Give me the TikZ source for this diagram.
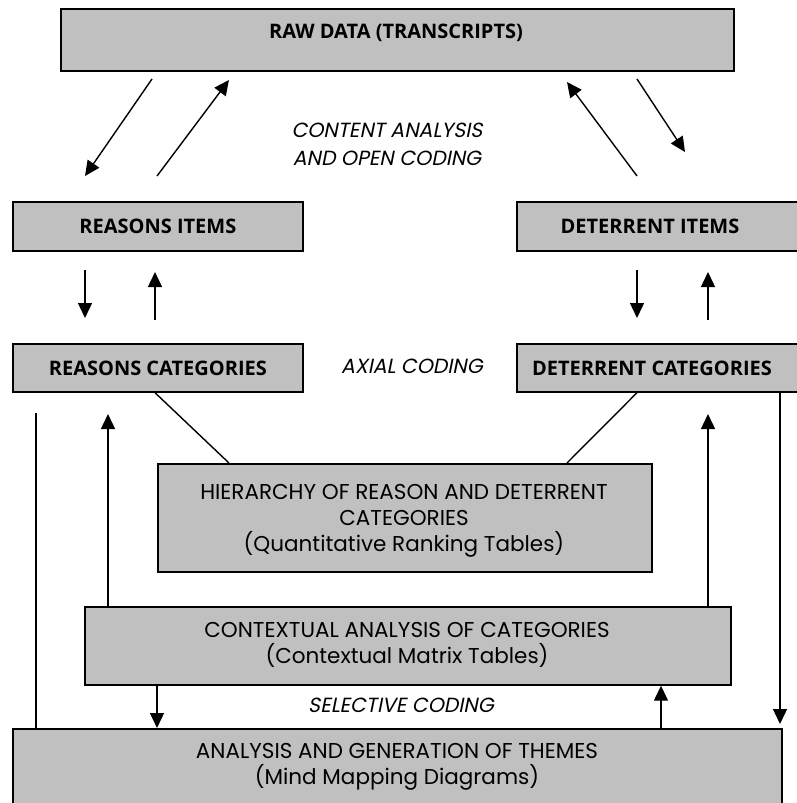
\documentclass[tikz,border=0pt]{standalone}
\usepackage{fontspec}
\usetikzlibrary{arrows.meta}
\newfontfamily\titlefont{Open Sans}
\newfontfamily\gothic{Poppins}
\newfontfamily\gothicit[FakeSlant=0.2]{Poppins}
\definecolor{boxgray}{RGB}{192,192,192}
\begin{document}
\begin{tikzpicture}[x=1pt,y=-1pt,
  box/.style={draw=black, fill=boxgray, line width=1.7pt, inner sep=0pt, anchor=north west},
  titletext/.style={font=\titlefont\bfseries\fontsize{20}{24}\selectfont},
  bodytext/.style={font=\gothic\fontsize{21.5}{26}\selectfont, align=center},
  labeltext/.style={font=\gothicit\fontsize{20.5}{28}\selectfont, align=center},
  arr/.style={line width=1.4pt, -{Triangle[length=15pt,width=14pt]}},
  plain/.style={line width=1.4pt}]
\useasboundingbox (0,0) rectangle (796,803);

% boxes
\node[box, minimum width=673pt, minimum height=62pt] (raw) at (60,8) {};
\node[titletext] (rawtxt) at (396,33) {RAW DATA (TRANSCRIPTS)};
\node[box, minimum width=290pt, minimum height=49pt] (ritems) at (12,201) {};
\node[titletext] (ritemstxt) at (ritems.center) {REASONS ITEMS};
\node[box, minimum width=290pt, minimum height=49pt] (ditems) at (516,201) {};
\node[titletext] (ditemstxt) at (650,226) {DETERRENT ITEMS};
\node[box, minimum width=290pt, minimum height=48pt] (rcat) at (12,343) {};
\node[titletext] (rcattxt) at (rcat.center) {REASONS CATEGORIES};
\node[box, minimum width=290pt, minimum height=48pt] (dcat) at (516,343) {};
\node[titletext] (dcattxt) at (652,368) {DETERRENT CATEGORIES};
\node[box, minimum width=494pt, minimum height=108pt] (hier) at (157,463) {};
\node[bodytext] (hiertxt) at (404,521) {HIERARCHY OF REASON AND DETERRENT\\CATEGORIES\\(Quantitative Ranking Tables)};
\node[box, minimum width=646pt, minimum height=78pt] (ctx) at (84,606) {};
\node[bodytext] (ctxtxt) at (407,645) {CONTEXTUAL ANALYSIS OF CATEGORIES\\(Contextual Matrix Tables)};
\node[box, minimum width=769pt, minimum height=90pt] (anal) at (12,728) {};
\node[bodytext] (analtxt) at (397,767) {ANALYSIS AND GENERATION OF THEMES\\(Mind Mapping Diagrams)};

% labels
\node[labeltext] (lbl1) at (387,144) {CONTENT ANALYSIS\\AND OPEN CODING};
\node[labeltext] (lbl2) at (412,366) {AXIAL CODING};
\node[labeltext] (lbl3) at (401,705) {SELECTIVE CODING};

% free ends
\coordinate (a1s) at (152,79);  \coordinate (a1e) at (85,176);
\coordinate (a2s) at (157,176); \coordinate (a2e) at (229,80);
\coordinate (a3s) at (637,176); \coordinate (a3e) at (567,82);
\coordinate (a4s) at (637,79);  \coordinate (a4e) at (685,152);
\coordinate (b1s) at (85,270);  \coordinate (b1e) at (85,318);
\coordinate (b2s) at (155,320); \coordinate (b2e) at (155,272);
\coordinate (b3s) at (637,270); \coordinate (b3e) at (637,318);
\coordinate (b4s) at (708,320); \coordinate (b4e) at (708,272);
\coordinate (c1s) at (36,413);
\coordinate (c2e) at (108,414);
\coordinate (c3e) at (708,414);
\coordinate (c4e) at (780,724);

% top diagonal arrows
\draw[arr] (a1s) -- (a1e);
\draw[arr] (a2s) -- (a2e);
\draw[arr] (a3s) -- (a3e);
\draw[arr] (a4s) -- (a4e);
% items <-> categories
\draw[arr] (b1s) -- (b1e);
\draw[arr] (b2s) -- (b2e);
\draw[arr] (b3s) -- (b3e);
\draw[arr] (b4s) -- (b4e);
% categories to hierarchy
\draw[plain] (rcat.south west) ++(143,0) coordinate (rc1) -- (229,463) coordinate (hh1);
\draw[plain] (dcat.south west) ++(121,0) coordinate (dc1) -- (567,463) coordinate (hh2);
% long verticals
\draw[plain] (c1s) -- (c1s |- anal.north);
\draw[arr] (ctx.north -| c2e) -- (c2e);
\draw[arr] (ctx.north -| c3e) -- (c3e);
\draw[arr] (dcat.south -| c4e) -- (c4e);
% context <-> analysis
\draw[arr] (ctx.south -| 157,0) -- (anal.north -| 157,0);
\draw[arr] (anal.north -| 661,0) -- (ctx.south -| 661,0);
\end{tikzpicture}
\end{document}
